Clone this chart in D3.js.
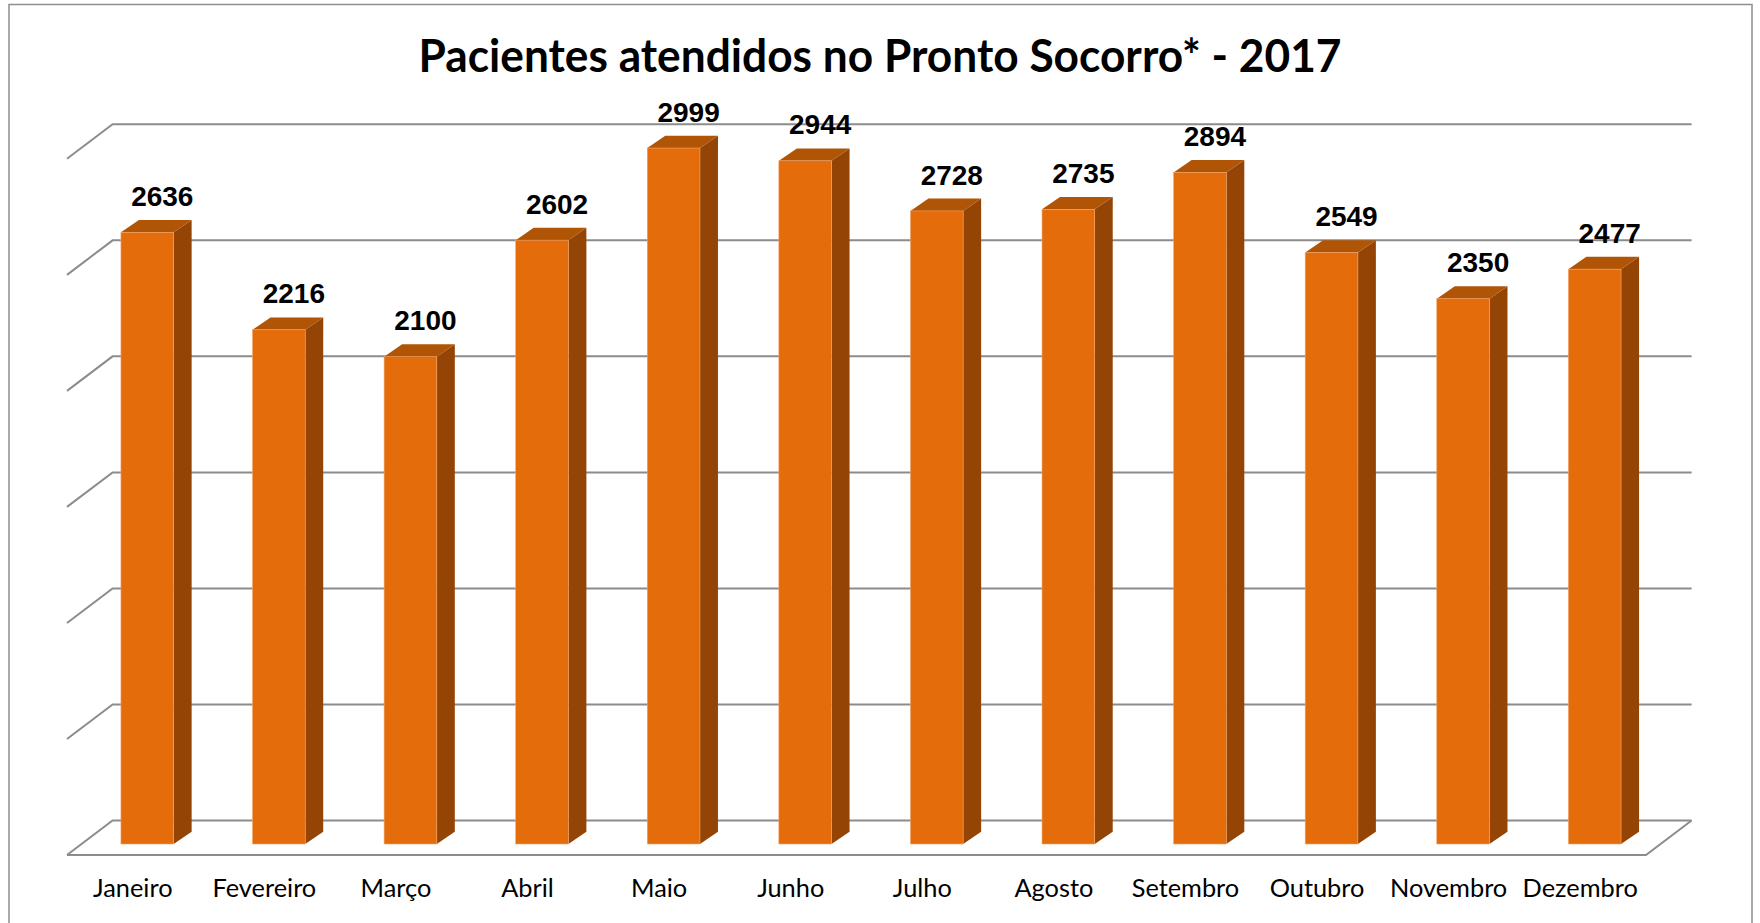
<!DOCTYPE html>
<html>
<head>
<meta charset="utf-8">
<script src="https://cdn.jsdelivr.net/npm/d3@7"></script>
<style>
    html, body { margin: 0; padding: 0; background: #fff; }
    svg { display: block; }
</style>
</head>
<body>
<svg id="chart" width="1760" height="923"></svg>
<script>
// ---- data ----
const months = ['Janeiro', 'Fevereiro', 'Março', 'Abril', 'Maio', 'Junho',
    'Julho', 'Agosto', 'Setembro', 'Outubro', 'Novembro', 'Dezembro'];
const patients = [2636, 2216, 2100, 2602, 2999, 2944, 2728, 2735, 2894, 2549, 2350, 2477];
const grid_ticks = [0, 500, 1000, 1500, 2000, 2500, 3000];
const title_text = 'Pacientes atendidos no Pronto Socorro* - 2017';

const colors = {
    front: '#e46c0a',
    top: '#b05406',
    side: '#944506',
    grid: '#8c8c8c',
    frame: '#8e8e8e'
};

// ---- layout (3D floor + back wall, faked) ----
const floor_front_y = 855;     // front edge of floor
const floor_dx = 45.6, floor_dy = 34.5;   // depth of floor
const bar_front_y = 844;       // bottom of bar front face
const bar_shift = 14.5;        // x shift of bar front plane vs floor front
const bar_w = 52.7;
const bar_dx = 18, bar_dy = 12.3;
const wall_h = 696.2;          // height of 3000 in px

const svg = d3.select('svg#chart');

// frame
svg.append('rect')
    .attr('x', 9).attr('y', 4.5)
    .attr('width', 1743).attr('height', 940)
    .style('fill', 'none')
    .style('stroke', colors.frame)
    .style('stroke-width', 1.5);

let x = d3.scaleBand().domain(months).range([67, 1646]);
let h = d3.scaleLinear().domain([0, 3000]).range([0, wall_h]);

const back_y0 = floor_front_y - floor_dy;
const back_x0 = x.range()[0] + floor_dx;
const back_x1 = x.range()[1] + floor_dx;

// back wall gridlines + left side wall diagonals
let grid = svg.append('g').attr('id', 'grid');
grid.selectAll('path.gl')
    .data(grid_ticks)
    .enter()
    .append('path')
    .attr('class', 'gl')
    .attr('d', t => {
        let yb = back_y0 - h(t);
        return 'M' + x.range()[0] + ',' + (yb + floor_dy) +
            'L' + back_x0 + ',' + yb + 'L' + back_x1 + ',' + yb;
    })
    .style('fill', 'none')
    .style('stroke', colors.grid)
    .style('stroke-width', 2);

// floor front edge + right edge
grid.append('path')
    .attr('d', 'M' + x.range()[0] + ',' + floor_front_y +
        'L' + x.range()[1] + ',' + floor_front_y +
        'L' + back_x1 + ',' + back_y0)
    .style('fill', 'none')
    .style('stroke', colors.grid)
    .style('stroke-width', 2);

// ---- bars ----
let bars = svg.append('g').attr('id', 'bars')
    .selectAll('g')
    .data(months.map((m, i) => ({month: m, value: patients[i]})))
    .enter()
    .append('g')
    .attr('class', 'bar');

const bx = d => x(d.month) + (x.bandwidth() - bar_w) / 2 + bar_shift;
const by = d => bar_front_y - h(d.value);

bars.append('path')   // side
    .attr('d', d => {
        let x1 = bx(d) + bar_w, yt = by(d);
        return 'M' + x1 + ',' + yt + 'L' + (x1 + bar_dx) + ',' + (yt - bar_dy) +
            'L' + (x1 + bar_dx) + ',' + (bar_front_y - bar_dy) + 'L' + x1 + ',' + bar_front_y + 'Z';
    })
    .style('fill', colors.side);
bars.append('path')   // top
    .attr('d', d => {
        let x0 = bx(d), yt = by(d);
        return 'M' + x0 + ',' + yt + 'L' + (x0 + bar_dx) + ',' + (yt - bar_dy) +
            'L' + (x0 + bar_w + bar_dx) + ',' + (yt - bar_dy) + 'L' + (x0 + bar_w) + ',' + yt + 'Z';
    })
    .style('fill', colors.top);
bars.append('rect')   // front
    .attr('x', bx)
    .attr('y', by)
    .attr('width', bar_w)
    .attr('height', d => h(d.value))
    .style('fill', colors.front)
    .style('stroke', '#f2a56a')
    .style('stroke-width', 0.6);

// data labels
bars.append('text')
    .attr('x', d => bx(d) + bar_w / 2 + 15)
    .attr('y', d => by(d) - bar_dy - 14)
    .attr('text-anchor', 'middle')
    .style('font-family', '"Liberation Sans", Arial, sans-serif')
    .style('font-weight', 'bold')
    .style('font-size', '28px')
    .style('fill', '#000')
    .text(d => d.value);

// ---- month labels ----
let mlab = svg.append('g').attr('id', 'months');
let probe = mlab.append('text')
    .style('font-family', 'Lato, sans-serif')
    .style('font-size', '100px')
    .text('Janeiro');
let msize = 100 * 79.5 / probe.node().getComputedTextLength();
probe.remove();
mlab.selectAll('text')
    .data(months)
    .enter()
    .append('text')
    .attr('x', d => x(d) + x.bandwidth() / 2)
    .attr('y', 896.7)
    .attr('text-anchor', 'middle')
    .style('font-family', 'Lato, sans-serif')
    .style('font-size', msize + 'px')
    .style('fill', '#000')
    .text(d => d);

// ---- title ----
svg.append('text')
    .attr('x', 880)
    .attr('y', 71.5)
    .attr('text-anchor', 'middle')
    .attr('textLength', 923)
    .attr('lengthAdjust', 'spacingAndGlyphs')
    .style('font-family', 'Lato, sans-serif')
    .style('font-weight', 'bold')
    .style('font-size', '45px')
    .style('fill', '#000')
    .text(title_text);
</script>
</body>
</html>
